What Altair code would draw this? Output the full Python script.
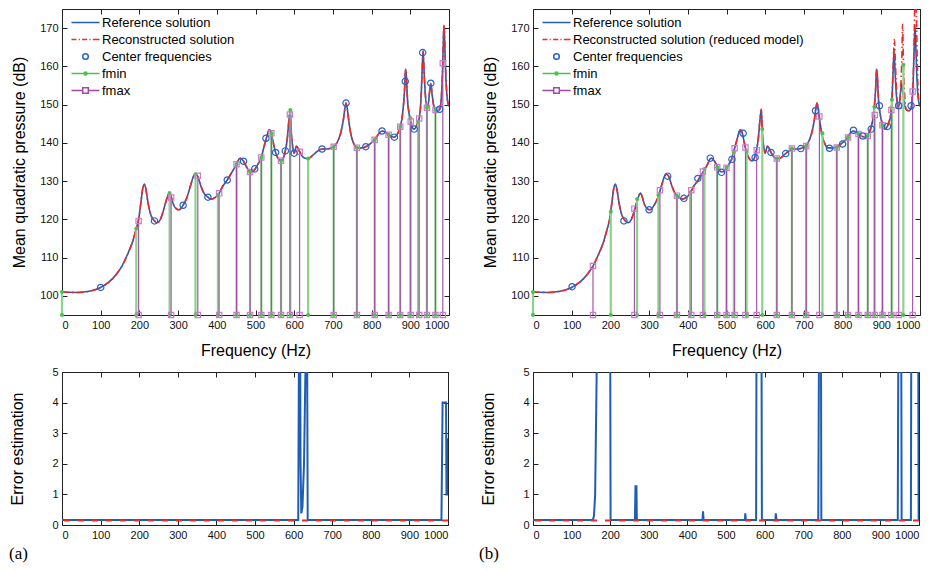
import altair as alt
import pandas as pd

# ---------------- data ----------------
# Reference solution (mean quadratic pressure, dB) - same response in (a) and (b)
ref_freq = [0, 40, 70, 100, 110, 120, 140, 155, 170, 182,
            192, 198, 204, 209, 213, 217, 222, 230, 239, 245,
            252, 260, 268, 274, 278, 282, 288, 295, 302, 313,
            322, 332, 340, 345, 351, 358, 366, 377, 386, 395,
            403, 406, 415, 427, 440, 451, 457, 461, 469, 478,
            486, 492, 499, 507, 515, 522, 528, 533, 536, 541,
            546, 552, 558, 566, 572, 577, 582, 586, 590, 593,
            597, 600, 603, 606, 610, 614, 620, 628, 636, 645,
            655, 672, 685, 702, 712, 720, 727, 731, 734, 737,
            741, 747, 754, 762, 775, 785, 797, 808, 818, 827,
            835, 844, 852, 859, 866, 874, 880, 885, 888, 890,
            893, 897, 901, 905, 910, 915, 920, 924, 928, 931,
            933, 935, 938, 943, 947, 950, 953, 956, 960, 965,
            970, 976, 980, 983, 985, 987, 989, 992, 995, 1000]
ref_db = [101.0, 100.9, 101.2, 102.2, 102.8, 103.5, 105.6, 107.8, 111.0, 114.0,
          117.6, 120.0, 124.5, 128.3, 129.2, 127.8, 124.5, 121.0, 119.6, 119.1,
          119.6, 121.6, 124.5, 126.3, 126.9, 125.9, 123.9, 122.8, 122.5, 123.7,
          125.5, 128.8, 131.3, 131.8, 131.2, 129.0, 127.0, 125.8, 125.3, 125.7,
          126.4, 126.8, 128.6, 130.3, 132.5, 134.4, 135.7, 136.0, 135.2, 133.5,
          132.4, 132.5, 133.2, 134.5, 136.2, 139.0, 141.2, 143.0, 143.4, 142.5,
          140.0, 137.5, 136.0, 135.3, 136.0, 137.9, 141.0, 145.5, 148.8, 142.0,
          138.5, 137.3, 138.3, 139.2, 138.6, 137.7, 136.6, 136.0, 135.9, 136.5,
          137.4, 138.4, 138.4, 139.0, 140.3, 142.5, 146.0, 149.0, 150.4, 149.0,
          145.8, 142.0, 139.8, 138.7, 138.7, 139.0, 139.8, 140.8, 142.3, 143.1,
          142.8, 142.1, 141.6, 141.5, 142.2, 144.2, 147.5, 153.5, 159.3, 157.0,
          151.0, 147.6, 145.6, 144.0, 143.6, 144.2, 145.5, 147.0, 152.0, 160.0,
          164.0, 160.0, 154.0, 149.2, 150.5, 153.5, 155.6, 153.0, 150.0, 148.6,
          148.4, 148.8, 151.5, 158.0, 165.0, 170.8, 166.0, 157.0, 152.0, 149.5]

# Reconstructed solution of the reduced model (b): departs from the reference above 915 Hz
rec_b_split = 915
rec_b_tail_freq = [920, 924, 928, 931, 934, 936, 939, 943, 947, 950, 953, 955, 957,
                   960, 965, 970, 976, 980, 983, 985, 988, 990, 993, 996, 1000]
rec_b_tail_db = [145.5, 147.5, 153.0, 161.0, 167.0, 162.0, 154.5, 149.6, 150.3, 154.0, 162.0, 171.0, 162.0,
                 153.0, 148.6, 148.4, 148.8, 152.0, 159.0, 168.0, 182.0, 177.0, 161.0, 152.0, 149.5]

# Center frequencies
cen_a_freq = [100, 239, 313, 377, 427, 469, 498, 527, 552, 577, 600, 672, 734, 785, 827, 859, 887, 910, 932, 953, 976]
cen_a_db = [102.2, 119.6, 123.7, 125.8, 130.3, 135.2, 133.2, 141.2, 137.5, 137.9, 137.3, 138.4, 150.4, 139.0,
            143.1, 141.5, 156.1, 143.6, 163.6, 155.6, 148.8]
cen_b_freq = [101, 235, 300, 348, 390, 426, 458, 487, 514, 543, 574, 615, 653, 692, 730, 766, 800, 828, 852,
              874, 895, 916, 945, 977]
cen_b_db = [102.4, 119.6, 122.5, 131.3, 125.5, 130.7, 136.0, 132.3, 135.7, 142.5, 136.2, 137.5, 137.2, 138.5,
            148.4, 138.6, 139.7, 143.3, 141.8, 143.6, 149.7, 144.3, 149.7, 149.7]

# fmin / fmax of each frequency band
fmin_a_freq = [0, 192, 278, 345, 403, 451, 486, 515, 541, 566, 590, 636, 702, 762, 808, 844, 874, 900, 920, 943, 965]
fmin_a_db = [101.0, 117.6, 126.9, 131.8, 126.4, 134.4, 132.4, 136.2, 142.5, 135.3, 148.6, 135.9, 139.0, 138.7,
             140.8, 142.1, 144.2, 146.5, 145.5, 149.2, 148.6]
fmax_a_freq = [198, 282, 351, 406, 451, 486, 515, 541, 566, 589, 614, 702, 762, 808, 844, 874, 901, 923, 943, 965, 984]
fmax_a_db = [119.6, 125.7, 131.4, 126.8, 134.4, 132.4, 136.2, 142.5, 135.3, 147.4, 137.7, 139.0, 138.7, 140.8,
             142.1, 144.2, 145.6, 146.4, 149.2, 148.6, 160.8]
fmin_b_freq = [0, 201, 269, 324, 372, 406, 443, 476, 500, 519, 552, 592.5, 630, 669, 706, 748, 785, 814, 841,
               865, 882, 903, 927.5, 957]
fmin_b_db = [101.0, 122.0, 125.3, 126.4, 126.2, 127.0, 133.2, 133.6, 133.5, 137.5, 137.7, 143.6, 135.9, 138.5,
             139.2, 142.5, 138.8, 141.4, 142.3, 141.8, 149.4, 144.6, 151.3, 160.4]
fmax_b_freq = [155, 262, 328, 372, 409, 439, 476, 500, 521, 549, 578, 630, 669, 706, 740, 785, 814, 841, 865,
               883, 903, 926, 945, 981]
fmax_b_db = [107.8, 122.8, 127.6, 126.2, 127.6, 132.5, 133.6, 133.5, 138.6, 138.8, 138.1, 135.9, 138.5, 139.2,
             146.9, 138.8, 141.4, 142.3, 141.8, 147.3, 144.6, 148.6, 149.7, 153.4]

# Error estimation
err_a_freq = [0, 612, 614, 617, 618, 620, 623, 627, 630, 632, 635, 636.5, 983, 986, 995, 996, 998, 999, 1000]
err_a_val = [0.16, 0.16, 6, 6, 2.0, 0.38, 0.6, 2.0, 4.5, 6, 6, 0.16, 0.16, 4.0, 4.0, 1.0, 1.0, 2.8, 2.8]
err_b_freq = [0, 155, 158, 161, 163, 166, 200, 201, 264, 265.5, 268, 269, 439, 440.5, 442, 549, 550, 551.5, 578,
              579, 592, 593, 628, 629, 631, 739, 741, 746, 747, 945, 946.5, 954, 955, 979, 980, 998, 999, 1000]
err_b_val = [0.16, 0.16, 0.3, 1.0, 3.0, 6, 6, 0.16, 0.16, 1.27, 1.27, 0.16, 0.16, 0.45, 0.16, 0.16, 0.38, 0.16,
             0.16, 6, 6, 0.16, 0.16, 0.38, 0.16, 0.16, 6, 6, 0.16, 0.16, 6, 6, 0.16, 0.16, 6, 6, 0.16, 0.16]
err_threshold = 0.15

legend_a = ["Reference solution", "Reconstructed solution", "Center frequencies", "fmin", "fmax"]
legend_b = ["Reference solution", "Reconstructed solution (reduced model)", "Center frequencies", "fmin", "fmax"]

x_ticks = list(range(0, 1001, 100))
db_ticks = list(range(100, 171, 10))
err_ticks = [0, 1, 2, 3, 4, 5]
db_floor = 95

# ---------------- style ----------------
FONT = "Liberation Sans"
BLUE = "#1f5db3"
RED = "#ee2b2b"
CIRC = "#2563c8"
GREEN_LINE = "#8ad38a"
GREEN_MARK = "#4dbf4d"
PURPLE_LINE = "#a04aa4"
PURPLE_MARK = "#c67ccb"

IN_TICK = alt.ExprRef(expr="-5")

legend_shapes = [
    "M-1.65,0L1.65,0",
    "M-1.65,0L-1.06,0M-0.8,0L-0.66,0M-0.4,0L0.2,0M0.46,0L0.6,0M0.86,0L1.65,0",
    "M-0.33,0A0.33,0.33,0,1,1,0.33,0A0.33,0.33,0,1,1,-0.33,0Z",
    "M-1.65,0L1.65,0M-0.17,0A0.17,0.17,0,1,1,0.17,0A0.17,0.17,0,1,1,-0.17,0Z",
    "M-1.65,0L-0.33,0M0.33,0L1.65,0M-0.33,-0.33L0.33,-0.33L0.33,0.33L-0.33,0.33Z",
]
legend_colors = [BLUE, RED, CIRC, GREEN_MARK, PURPLE_LINE]


def make_axis(orient, values, title=None, labels=True, title_pad=10):
    return alt.Axis(orient=orient, values=values, title=title, labels=labels, format="d",
                    tickSize=IN_TICK, tickColor="#222", tickWidth=1, domain=False, grid=False,
                    labelFont=FONT, labelFontSize=11, labelColor="#111", labelPadding=9,
                    titleFont=FONT, titleFontSize=16, titleFontWeight="normal", titleColor="#000",
                    titlePadding=title_pad)


def df(f, v):
    return pd.DataFrame({"f": f, "v": v})


def stems(f, v):
    d = df(f, v)
    d["base"] = db_floor
    return d


def top_panel(ref_d, rec_d, cen_d, fmin_d, fmax_d, names):
    xs = alt.Scale(domain=[0, 1000], nice=False, zero=False)
    ys = alt.Scale(domain=[95, 175], nice=False, zero=False)
    ax_b = make_axis("bottom", x_ticks, "Frequency (Hz)", title_pad=12)
    ax_l = make_axis("left", db_ticks, "Mean quadratic pressure (dB)", title_pad=12)
    X = alt.X("f:Q", scale=xs, axis=ax_b)
    Y = alt.Y("v:Q", scale=ys, axis=ax_l)
    YB = alt.Y("base:Q", scale=ys, axis=ax_l)

    ref_line = alt.Chart(ref_d).mark_line(color=BLUE, strokeWidth=1.6, interpolate="monotone",
                                          clip=True).encode(x=X, y=Y)
    rec_line = alt.Chart(rec_d).mark_line(color=RED, strokeWidth=1.6, strokeDash=[7, 3, 1.5, 3],
                                          interpolate="monotone", clip=True).encode(x=X, y=Y)
    fmin_rule = alt.Chart(fmin_d).mark_rule(color=GREEN_LINE, strokeWidth=2.2).encode(x=X, y=Y, y2="base:Q")
    fmax_rule = alt.Chart(fmax_d).mark_rule(color=PURPLE_LINE, strokeWidth=1.1).encode(x=X, y=Y, y2="base:Q")
    fmin_top = alt.Chart(fmin_d).mark_circle(color=GREEN_MARK, size=16, opacity=1).encode(x=X, y=Y)
    fmin_bot = alt.Chart(fmin_d).mark_circle(color=GREEN_MARK, size=16, opacity=1).encode(x=X, y=YB)
    fmax_top = alt.Chart(fmax_d).mark_point(shape="square", filled=False, color=PURPLE_MARK, size=28,
                                            strokeWidth=1.2, opacity=1).encode(x=X, y=Y)
    fmax_bot = alt.Chart(fmax_d).mark_point(shape="square", filled=False, color=PURPLE_MARK, size=28,
                                            strokeWidth=1.2, opacity=1).encode(x=X, y=YB)
    centers = alt.Chart(cen_d).mark_point(shape="circle", filled=False, color=CIRC, size=40,
                                          strokeWidth=1.2, opacity=1).encode(x=X, y=Y)
    leg = alt.Legend(title=None, orient="none", legendX=14, legendY=4, padding=0,
                     labelFont=FONT, labelFontSize=13, labelColor="#000", labelOffset=7,
                     labelLimit=400,
                     symbolSize=289, symbolStrokeWidth=1.5, symbolOpacity=1, rowPadding=0,
                     symbolFillColor="transparent")
    legend_layer = alt.Chart(pd.DataFrame({"series": names})).mark_point(
        opacity=0, filled=False).encode(
        color=alt.Color("series:N", scale=alt.Scale(domain=names, range=legend_colors), legend=leg),
        shape=alt.Shape("series:N", scale=alt.Scale(domain=names, range=legend_shapes), legend=leg),
    )
    inner = alt.layer(ref_line, rec_line, fmin_rule, fmax_rule, fmin_top, fmin_bot,
                      fmax_top, fmax_bot, centers, legend_layer)
    frame = alt.Chart(ref_d).mark_line(opacity=0).encode(
        x=alt.X("f:Q", scale=xs, axis=make_axis("top", x_ticks, None, labels=False)),
        y=alt.Y("v:Q", scale=ys, axis=make_axis("right", db_ticks, None, labels=False)),
    )
    return alt.layer(inner, frame).resolve_axis(x="independent", y="independent").properties(
        width=387, height=306)


def bottom_panel(err_d, label, dx):
    xs = alt.Scale(domain=[0, 1000], nice=False, zero=False)
    ys = alt.Scale(domain=[0, 5], nice=False, zero=False)
    X = alt.X("f:Q", scale=xs, axis=make_axis("bottom", x_ticks, None))
    Y = alt.Y("v:Q", scale=ys, axis=make_axis("left", err_ticks, "Error estimation", title_pad=26))
    err_line = alt.Chart(err_d).mark_line(color=BLUE, strokeWidth=2, clip=True).encode(x=X, y=Y)
    thr = alt.Chart(pd.DataFrame({"v": [err_threshold]})).mark_rule(
        color=RED, strokeWidth=2, strokeDash=[6, 8]).encode(y=Y)
    inner = alt.layer(err_line, thr)
    frame = alt.Chart(err_d).mark_line(opacity=0).encode(
        x=alt.X("f:Q", scale=xs, axis=make_axis("top", x_ticks, None, labels=False)),
        y=alt.Y("v:Q", scale=ys, axis=make_axis("right", err_ticks, None, labels=False)),
    )
    return alt.layer(inner, frame).resolve_axis(x="independent", y="independent").properties(
        width=386, height=153,
        title=alt.TitleParams(label, orient="bottom", anchor="start", frame="group", dx=dx, offset=6,
                              font="Liberation Serif", fontSize=17, fontWeight="normal", color="#000"))


ref_d = df(ref_freq, ref_db)
rec_b_freq = [f for f in ref_freq if f <= rec_b_split] + rec_b_tail_freq
rec_b_db = [v for f, v in zip(ref_freq, ref_db) if f <= rec_b_split] + rec_b_tail_db

top_a = top_panel(ref_d, df(ref_freq, ref_db), df(cen_a_freq, cen_a_db),
                  stems(fmin_a_freq, fmin_a_db), stems(fmax_a_freq, fmax_a_db), legend_a)
top_b = top_panel(ref_d, df(rec_b_freq, rec_b_db), df(cen_b_freq, cen_b_db),
                  stems(fmin_b_freq, fmin_b_db), stems(fmax_b_freq, fmax_b_db), legend_b)
bot_a = bottom_panel(df(err_a_freq, err_a_val), "(a)", -53)
bot_b = bottom_panel(df(err_b_freq, err_b_val), "(b)", -54)

chart = alt.concat(top_a, top_b, bot_a, bot_b, columns=2, bounds="flush",
                   spacing=alt.RowColnumber(row=57, column=84)).resolve_scale(
    color="independent", shape="independent").properties(padding=0).configure(
    font=FONT).configure_view(stroke="#222", strokeWidth=1)

chart.save("out.html", embed_options={"renderer": "svg", "actions": False})
